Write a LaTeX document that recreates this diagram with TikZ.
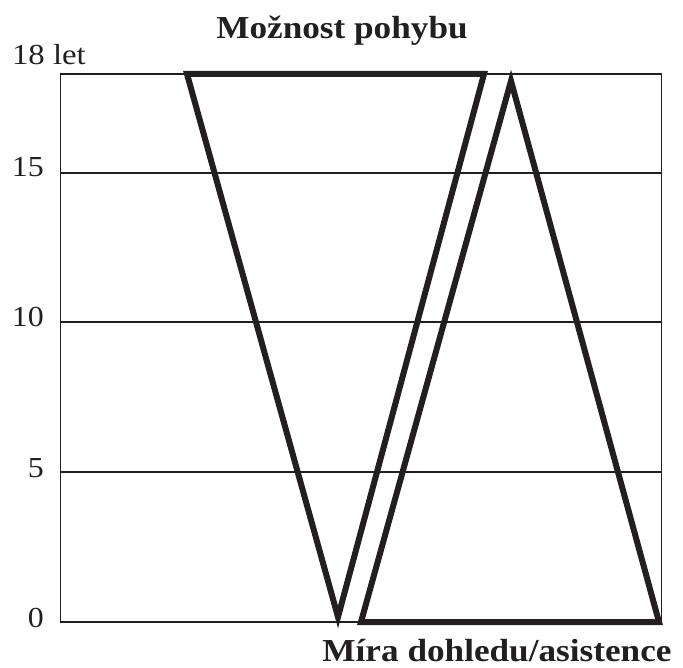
\documentclass[tikz,border=0pt]{standalone}
\usepackage{fontspec}
\setmainfont{Liberation Serif}
\definecolor{ink}{HTML}{231F20}
\newcommand{\wide}[2]{\scalebox{#1}[1]{#2}}
\begin{document}
\begin{tikzpicture}[x=1pt,y=-1pt,
  thin grid/.style={draw=ink,line width=1.4pt},
  thick tri/.style={draw=ink,line width=6pt,line join=miter,miter limit=10},
  axlabel/.style={anchor=base east,inner sep=0pt,font=\fontsize{29}{32}\selectfont,text=ink},
  titlelabel/.style={anchor=base,inner sep=0pt,font=\fontsize{32}{35}\selectfont\bfseries,text=ink}]
\useasboundingbox (0,0) rectangle (683,668);
% frame and grid
\coordinate (tl) at (60.5,74);
\coordinate (br) at (661.5,622);
\draw[thin grid] (tl) rectangle (br);
\draw[thin grid] (60.5,173) coordinate (g15a) -- (661.5,173) coordinate (g15b);
\draw[thin grid] (60.5,322) coordinate (g10a) -- (661.5,322) coordinate (g10b);
\draw[thin grid] (60.5,472) coordinate (g5a) -- (661.5,472) coordinate (g5b);
% inverted triangle
\coordinate (a1) at (187,74);
\coordinate (a2) at (484,74);
\coordinate (a3) at (338,617);
\draw[thick tri] (a1) -- (a2) -- (a3) -- cycle;
% upright triangle
\coordinate (b1) at (511,81);
\coordinate (b2) at (659,622);
\coordinate (b3) at (361,622);
\draw[thick tri] (b1) -- (b2) -- (b3) -- cycle;
% labels
\node[axlabel] (l18) at (86,65) {\wide{1.13}{18 let}};
\node[axlabel] (l15) at (44,177) {\wide{1.1}{15}};
\node[axlabel] (l10) at (44,327) {\wide{1.1}{10}};
\node[axlabel] (l5) at (44,477) {\wide{1.1}{5}};
\node[axlabel] (l0) at (44,627) {\wide{1.1}{0}};
\node[titlelabel] (top) at (342,39) {\wide{1.1}{Možnost pohybu}};
\node[titlelabel] (bot) at (497,661) {\wide{1.1}{Míra dohledu/asistence}};
\end{tikzpicture}
\end{document}
